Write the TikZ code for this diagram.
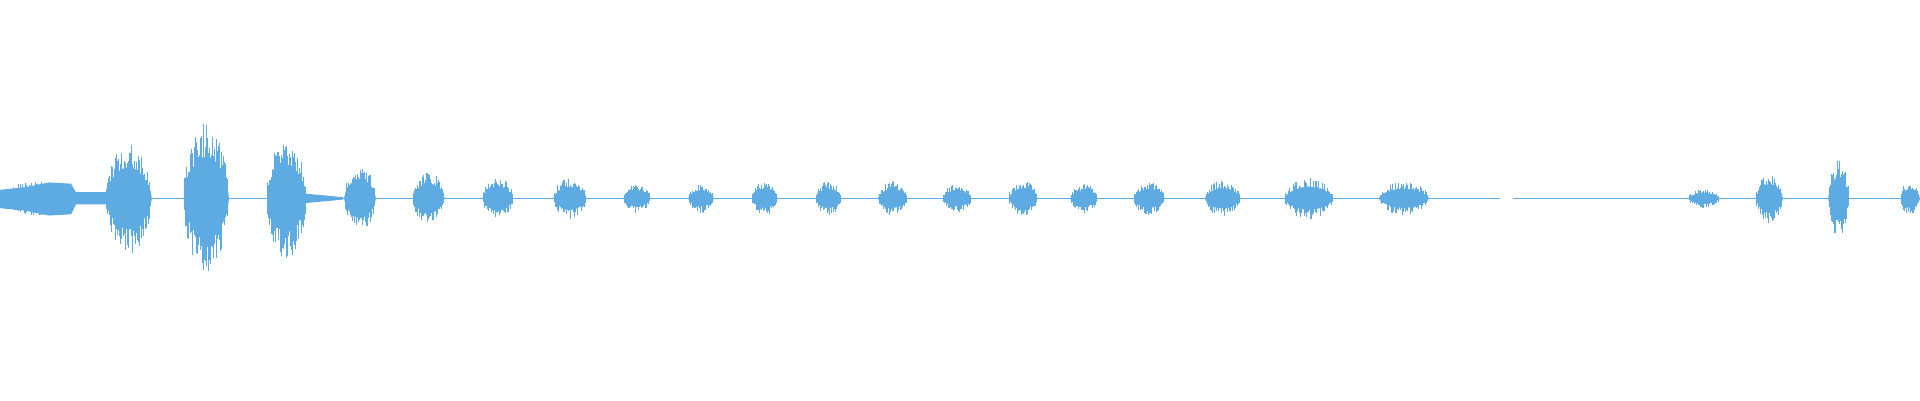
\documentclass[tikz,border=0pt]{standalone}
\usepackage{tikz}

\definecolor{wavecol}{RGB}{94,170,226}
\tikzset{wave/.style={draw=wavecol,line width=0.5pt}}

% one burst: start, end, amplitude, steps
\newcommand\burst[4]{%
  \fill[wavecol] (#1,162) \foreach \k in {0,...,#4}{ -- ({#1+(#2-#1)*\k/#4},{162-0.55*#3*abs(sin(180*\k/#4))^0.6}) } -- (#2,162)
    \foreach \k in {#4,...,0}{ -- ({#1+(#2-#1)*\k/#4},{162+0.55*#3*abs(sin(180*\k/#4))^0.6}) } -- cycle;
  \foreach \k in {0,...,#4}{%
    \pgfmathsetmacro\xx{#1+(#2-#1)*\k/#4}
    \pgfmathsetmacro\hu{#3*abs(sin(180*\k/#4))^0.5*(0.45+0.55*rnd)}
    \pgfmathsetmacro\hd{#3*abs(sin(180*\k/#4))^0.5*(0.45+0.55*rnd)}
    \draw[wave] (\xx,162-\hu) -- (\xx,162+\hd);
  }%
}

\begin{document}
\begin{tikzpicture}[x=0.6122pt,y=0.6122pt,yscale=-1]
\useasboundingbox (0,0) rectangle (1568,327);
\pgfmathsetseed{7}

% baseline
\draw[wave] (0,162) -- (1225,162);
\draw[wave] (1236,162) -- (1568,162);

% leading block
\fill[wavecol] (0,155) -- (20,153) -- (40,149) -- (58,150) -- (62,157) -- (88,157) -- (88,167) -- (62,167) -- (58,175) -- (40,176) -- (20,172) -- (0,170) -- cycle;
\burst{0}{60}{14}{60}

% bursts
\burst{86}{124}{46}{45}
\burst{150}{187}{62}{45}
\burst{218}{250}{50}{40}
\fill[wavecol] (248,158) -- (280,161) -- (280,163) -- (248,166) -- cycle;
\burst{281}{307}{29}{32}
\burst{337}{363}{22}{30}
\burst{394}{419}{18}{30}
\burst{452}{479}{17}{30}
\burst{509}{531}{12}{26}
\burst{562}{583}{12}{26}
\burst{614}{635}{14}{26}
\burst{666}{687}{14}{26}
\burst{717}{741}{14}{28}
\burst{770}{793}{12}{28}
\burst{824}{847}{15}{28}
\burst{874}{896}{12}{28}
\burst{926}{951}{14}{30}
\burst{984}{1013}{15}{32}
\burst{1049}{1089}{17}{40}
\burst{1126}{1167}{14}{40}
\burst{1379}{1404}{8}{26}
\burst{1434}{1456}{21}{26}
\burst{1493}{1510}{31}{22}
\burst{1552}{1568}{14}{18}

\end{tikzpicture}
\end{document}
